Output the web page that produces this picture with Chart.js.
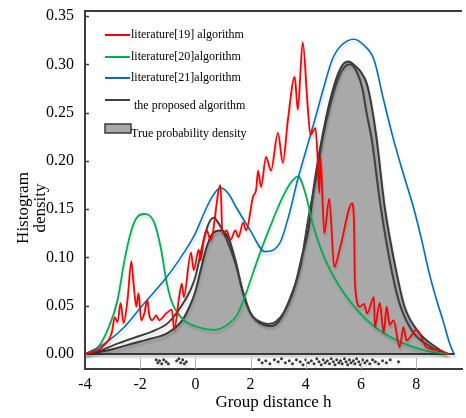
<!DOCTYPE html>
<html>
<head>
<meta charset="utf-8">
<script src="https://cdn.jsdelivr.net/npm/chart.js@4.4.1/dist/chart.umd.min.js"></script>
<style>
  html, body { margin: 0; padding: 0; background: #fff; }
  #wrap { width: 466px; height: 418px; position: relative; }
</style>
</head>
<body>
<div id="wrap"><canvas id="chart"></canvas></div>
<script>
// Kernel density comparison.

const xTicks = [-4, -2, 0, 2, 4, 6, 8];
const yTicks = [0, 0.05, 0.10, 0.15, 0.20, 0.25, 0.30, 0.35];

// literature[19] algorithm (red, wiggly)
const redX = [-4, -3.39, -3.03, -2.92, -2.82, -2.71, -2.6, -2.46, -2.32, -2.24, -2.14, -2.06, -1.96, -1.85, -1.74, -1.67, -1.56, -1.42, -1.31, -1.06, -0.85, -0.77, -0.59, -0.49, -0.42, -0.16, -0.06, 0.12, 0.19, 0.3, 0.41, 0.55, 0.91, 0.98, 1.13, 1.27, 1.45, 1.56, 1.73, 1.84, 2.09, 2.2, 2.27, 2.38, 2.56, 2.74, 2.99, 3.17, 3.35, 3.6, 3.71, 3.89, 4.06, 4.17, 4.35, 4.42, 4.49, 4.53, 4.67, 4.85, 5.03, 5.25, 5.68, 5.75, 5.78, 5.96, 6.11, 6.22, 6.47, 6.5, 6.68, 6.82, 6.93, 7.04, 7.18, 7.4, 7.54, 7.65, 8.01, 8.11, 8.37, 8.8, 9.19];
const redY = [0, 0.007, 0.022, 0.038, 0.033, 0.053, 0.032, 0.056, 0.096, 0.073, 0.049, 0.063, 0.035, 0.042, 0.056, 0.040, 0.035, 0.040, 0.035, 0.042, 0.046, 0.025, 0.059, 0.073, 0.059, 0.105, 0.087, 0.108, 0.097, 0.118, 0.128, 0.118, 0.175, 0.125, 0.128, 0.118, 0.128, 0.121, 0.136, 0.128, 0.163, 0.17, 0.19, 0.173, 0.204, 0.19, 0.229, 0.198, 0.242, 0.287, 0.253, 0.323, 0.26, 0.227, 0.234, 0.208, 0.167, 0.204, 0.125, 0.161, 0.09, 0.111, 0.156, 0.132, 0.073, 0.049, 0.052, 0.042, 0.059, 0.028, 0.053, 0.022, 0.049, 0.030, 0.035, 0.007, 0.028, 0.014, 0.025, 0.022, 0.007, 0.004, 0];

// literature[20] algorithm (green)
const greenX = [-4, -3.53, -3.18, -2.82, -2.57, -2.32, -2.1, -1.85, -1.49, -1.24, -1.06, -0.88, -0.52, 0.19, 0.7, 1.2, 1.5, 1.8, 2.1, 2.45, 2.81, 3.17, 3.5, 3.72, 4.0, 4.24, 4.67, 5.25, 6.22, 7.04, 8.26, 9.19];
const greenY = [0, 0.007, 0.025, 0.056, 0.097, 0.128, 0.142, 0.145, 0.136, 0.108, 0.077, 0.056, 0.038, 0.027, 0.025, 0.031, 0.04, 0.06, 0.085, 0.113, 0.139, 0.163, 0.179, 0.184, 0.165, 0.136, 0.1, 0.069, 0.035, 0.018, 0.004, 0];

// literature[21] algorithm (blue)
const blueX = [-4, -3.28, -2.57, -1.96, -1.03, -0.6, 0, 0.3, 0.59, 0.91, 1.2, 1.48, 1.99, 2.52, 3.06, 3.4, 3.7, 4.0, 4.35, 4.67, 4.96, 5.3, 5.75, 6.1, 6.47, 6.82, 7.18, 7.5, 7.9, 8.2, 8.47, 8.75, 8.97, 9.2, 9.37];
const blueY = [0, 0.011, 0.028, 0.049, 0.08, 0.097, 0.125, 0.145, 0.162, 0.172, 0.166, 0.152, 0.128, 0.106, 0.115, 0.145, 0.18, 0.21, 0.245, 0.278, 0.305, 0.32, 0.326, 0.32, 0.305, 0.263, 0.222, 0.19, 0.152, 0.118, 0.084, 0.055, 0.035, 0.012, 0];

// the proposed algorithm (dark grey)
const propX = [-4, -3.5, -2.8, -2, -1.6, -1, -0.5, -0.2, 0, 0.25, 0.45, 0.66, 0.85, 1.1, 1.45, 1.75, 2.0, 2.3, 2.62, 2.9, 3.2, 3.5, 3.8, 4.1, 4.4, 4.6, 4.9, 5.2, 5.4, 5.6, 5.85, 6.05, 6.2, 6.39, 6.7, 7.1, 7.4, 7.9, 8.5, 8.9, 9.1];
const propY = [0, 0.003, 0.011, 0.019, 0.023, 0.032, 0.05, 0.065, 0.08, 0.112, 0.133, 0.141, 0.135, 0.121, 0.094, 0.062, 0.042, 0.034, 0.031, 0.033, 0.043, 0.063, 0.09, 0.142, 0.187, 0.222, 0.26, 0.287, 0.297, 0.3, 0.292, 0.275, 0.25, 0.222, 0.155, 0.088, 0.052, 0.022, 0.008, 0.002, 0];

// true probability density (filled)
const trueX = [-4, -3.5, -3, -2.5, -2, -1.6, -1, -0.5, -0.2, 0, 0.2, 0.4, 0.6, 0.9, 1.2, 1.45, 1.7, 1.95, 2.2, 2.5, 2.75, 3.0, 3.3, 3.6, 3.85, 4.1, 4.3, 4.5, 4.7, 4.9, 5.14, 5.35, 5.56, 5.8, 6.0, 6.21, 6.39, 6.57, 6.86, 7.29, 7.58, 8.11, 8.72, 9.1];
const trueY = [0, 0.002, 0.005, 0.009, 0.013, 0.016, 0.022, 0.034, 0.05, 0.065, 0.088, 0.11, 0.124, 0.128, 0.12, 0.097, 0.066, 0.045, 0.035, 0.03, 0.029, 0.033, 0.048, 0.07, 0.1, 0.13, 0.175, 0.21, 0.24, 0.265, 0.288, 0.3, 0.303, 0.298, 0.292, 0.28, 0.256, 0.222, 0.152, 0.084, 0.049, 0.022, 0.007, 0];

// zero line under the fill
const baseX = [-4, 9.4];
const baseY = [0, 0];

// sample rug under the axis
const rugX = [-1.42, -1.36, -1.3, -1.22, -1.15, -1.06, -0.98, -0.68, -0.6, -0.53, -0.46, -0.4, -0.33, 2.3, 2.42, 2.55, 2.7, 2.86, 3.0, 3.12, 3.26, 3.4, 3.52, 3.66, 3.8, 3.9, 4.0, 4.1, 4.2, 4.3, 4.4, 4.48, 4.56, 4.63, 4.7, 4.78, 4.86, 4.92, 5.0, 5.06, 5.12, 5.2, 5.26, 5.32, 5.4, 5.46, 5.52, 5.58, 5.64, 5.72, 5.78, 5.84, 5.92, 5.98, 6.06, 6.14, 6.22, 6.32, 6.42, 6.52, 6.64, 6.78, 6.92, 7.06, 7.36];
const rugY = [-0.006, -0.009, -0.007, -0.010, -0.006, -0.008, -0.010, -0.007, -0.005, -0.009, -0.006, -0.010, -0.008, -0.006, -0.009, -0.007, -0.010, -0.006, -0.008, -0.005, -0.009, -0.007, -0.010, -0.006, -0.008, -0.011, -0.006, -0.009, -0.007, -0.010, -0.005, -0.008, -0.011, -0.006, -0.009, -0.007, -0.010, -0.005, -0.008, -0.011, -0.006, -0.009, -0.007, -0.010, -0.005, -0.008, -0.011, -0.006, -0.009, -0.007, -0.010, -0.005, -0.008, -0.011, -0.006, -0.009, -0.007, -0.010, -0.006, -0.008, -0.010, -0.007, -0.009, -0.006, -0.008];

const SERIF = "'Liberation Serif', 'Times New Roman', serif";
const INK = '#000';
const FRAME = '#3c3c3c';

const pts = (xs, ys) => xs.map((x, i) => ({ x, y: ys[i] }));

function curve(label, xs, ys, color, width, order) {
  return {
    label,
    data: pts(xs, ys),
    borderColor: color,
    backgroundColor: color,
    borderWidth: width,
    pointRadius: 0,
    fill: false,
    cubicInterpolationMode: 'monotone',
    order,
  };
}

const datasets = [
  curve('literature[19] algorithm', redX, redY, '#ff0000', 1.8, 1),
  curve('literature[20]algorithm', greenX, greenY, '#00b050', 1.8, 3),
  curve('literature[21]algorithm', blueX, blueY, '#0070c0', 1.6, 2),
  curve(' the proposed algorithm', propX, propY, '#404040', 2, 4),
  {
    ...curve('True probability density', trueX, trueY, '#3a3a3a', 2, 6),
    fill: 'origin',
    backgroundColor: '#a9a9a9',
    legendBox: true,
  },
  { ...curve('', baseX, baseY, '#3a3a3a', 2, 5), cubicInterpolationMode: 'default', tension: 0 },
  {
    label: '',
    data: pts(rugX, rugY),
    showLine: false,
    pointRadius: 1.5,
    pointBorderWidth: 0,
    pointBackgroundColor: '#3a3a3a',
    order: 0,
  },
];

// legend rows (canvas px), drawn inside the axes like the original
const LEGEND_ROWS = [
  { line: 35, text: 35, tx: 131 },
  { line: 57, text: 57, tx: 131 },
  { line: 78, text: 78, tx: 131 },
  { line: 100, text: 106, tx: 131 },
  { line: 128, text: 134, tx: 131 },
];

const decor = {
  id: 'decor',
  beforeDatasetsDraw(chart) {
    const ctx = chart.ctx;
    ctx.save();
    ctx.shadowColor = 'rgba(0,0,0,0.13)';
    ctx.shadowBlur = 2;
    ctx.shadowOffsetX = 1;
    ctx.shadowOffsetY = 3;
  },
  afterDatasetsDraw(chart) {
    chart.ctx.restore();
  },
  afterDraw(chart) {
    const { ctx, chartArea: a, scales: { x, y } } = chart;
    ctx.save();
    // top frame
    ctx.strokeStyle = FRAME;
    ctx.lineWidth = 2;
    ctx.beginPath();
    ctx.moveTo(a.left, a.top);
    ctx.lineTo(a.right, a.top);
    ctx.stroke();
    // inward ticks
    ctx.lineWidth = 1.5;
    for (const v of yTicks.slice(1)) {
      const py = Math.round(y.getPixelForValue(v)) + 0.5;
      ctx.beginPath();
      ctx.moveTo(a.left, py);
      ctx.lineTo(a.left + 4, py);
      ctx.stroke();
    }
    ctx.strokeStyle = '#b5b5b5';
    ctx.lineWidth = 1;
    for (const v of xTicks.slice(1)) {
      const px = Math.round(x.getPixelForValue(v)) + 0.5;
      ctx.beginPath();
      ctx.moveTo(px, a.bottom);
      ctx.lineTo(px, a.bottom - 11);
      ctx.stroke();
    }
    // legend
    ctx.font = '12px ' + SERIF;
    ctx.textBaseline = 'middle';
    ctx.textAlign = 'left';
    const items = chart.data.datasets.filter((d) => d.label);
    items.forEach((d, i) => {
      const r = LEGEND_ROWS[i];
      if (d.legendBox) {
        ctx.fillStyle = d.backgroundColor;
        ctx.fillRect(105, r.line - 4, 26, 9);
        ctx.strokeStyle = d.borderColor;
        ctx.lineWidth = 1.5;
        ctx.strokeRect(105, r.line - 4, 26, 9);
      } else {
        ctx.strokeStyle = d.borderColor;
        ctx.lineWidth = 2;
        ctx.beginPath();
        ctx.moveTo(105, r.line);
        ctx.lineTo(130, r.line);
        ctx.stroke();
      }
      ctx.fillStyle = INK;
      ctx.fillText(d.label, r.tx, r.text);
    });
    // y title, two lines
    ctx.font = '17px ' + SERIF;
    ctx.textAlign = 'center';
    ctx.fillStyle = INK;
    ctx.translate(24, 208);
    ctx.rotate(-Math.PI / 2);
    ctx.fillText('Histogram', 0, 0);
    ctx.fillText('density', 0, 17);
    ctx.restore();
  },
};

new Chart(document.getElementById('chart'), {
  type: 'line',
  data: { datasets },
  options: {
    responsive: true,
    maintainAspectRatio: false,
    animation: false,
    layout: { padding: { top: 11, right: 0, left: 0, bottom: 0 } },
    plugins: { legend: { display: false }, tooltip: { enabled: false } },
    scales: {
      x: {
        type: 'linear',
        min: -4,
        max: 9.66,
        afterBuildTicks: (s) => { s.ticks = xTicks.map((v) => ({ value: v })); },
        afterFit: (s) => { s.height = 49; s.paddingLeft = 0; s.paddingRight = 0; },
        grid: { display: false, drawTicks: false },
        border: { color: FRAME, width: 2 },
        ticks: { color: INK, padding: 6, maxRotation: 0, font: { family: SERIF, size: 16 } },
        title: {
          display: true,
          text: 'Group distance h',
          color: INK,
          padding: { top: 0, bottom: 5 },
          font: { family: SERIF, size: 17 },
        },
      },
      y: {
        min: -0.0155,
        max: 0.3552,
        afterBuildTicks: (s) => { s.ticks = yTicks.map((v) => ({ value: v })); },
        // keep the frame where the original has it; labels fit in the margin anyway
        afterFit: (s) => { s.width = 85; s.paddingTop = 0; s.paddingBottom = 0; },
        grid: { display: false, drawTicks: false },
        border: { color: FRAME, width: 2 },
        ticks: {
          color: INK,
          padding: 11,
          font: { family: SERIF, size: 16 },
          callback: (v) => v.toFixed(2),
        },
      },
    },
  },
  plugins: [decor],
});
</script>
</body>
</html>
